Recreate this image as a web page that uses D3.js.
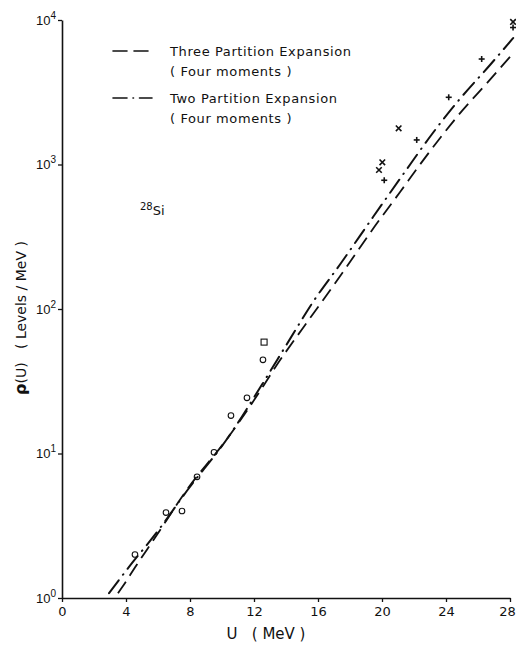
<!DOCTYPE html>
<html>
<head>
<meta charset="utf-8">
<script src="https://cdn.jsdelivr.net/npm/d3@7"></script>
<style>
  html, body { margin: 0; padding: 0; background: #fff; }
  svg { display: block; font-family: "DejaVu Sans", sans-serif; }
  text { fill: #111; }
</style>
</head>
<body>
<svg id="chart" width="516" height="650"></svg>
<script>
// Level density of 28Si: partition expansions vs. measured levels
const xTicks = [0, 4, 8, 12, 16, 20, 24, 28];
const yTickExps = [0, 1, 2, 3, 4];

// Three partition expansion (four moments)
const threeU   = [3.5, 3.81, 4.6, 5.8, 7.8, 10.4, 12.5, 13.3, 15.06, 16.31, 17.56, 19.56, 21.13, 22.31, 23.44, 25.0, 26.6, 28.2];
const threeRho = [1.08, 1.21, 1.65, 2.6, 5.6, 13.0, 28.4, 39.1, 73.9, 115, 180, 375, 645, 977, 1432, 2350, 3700, 5900];

// Two partition expansion (four moments)
const twoU   = [2.94, 4.13, 5.94, 7.8, 10.4, 12.5, 14.13, 15.69, 17.44, 19.44, 21.38, 23.13, 24.81, 26.75, 28.2];
const twoRho = [1.08, 1.61, 2.86, 5.5, 13.0, 30, 59, 112, 208, 433, 873, 1626, 2794, 4883, 7500];

// Measured densities
const circleU   = [4.56, 6.5, 7.5, 8.44, 9.5, 10.56, 11.56, 12.56];
const circleRho = [2.0, 3.9, 4.0, 6.9, 10.2, 18.3, 24.3, 44.5];
const squareU   = [12.63];
const squareRho = [59];
const crossU    = [19.81, 20.02, 21.04, 28.19];
const crossRho  = [916, 1035, 1780, 9690];
const plusU     = [20.14, 22.17, 24.17, 26.23, 28.19];
const plusRho   = [778, 1479, 2918, 5370, 8870];

const svg = d3.select("#chart");
const x = d3.scaleLinear().domain([0, 28]).range([62, 510]);
const y = d3.scaleLog().domain([1, 1e4]).range([598, 20]);

// Axes
const xAxis = d3.axisBottom(x).tickValues(xTicks).tickSize(4).tickSizeOuter(0).tickPadding(5);
const gx = svg.append("g").attr("transform", `translate(0,${y(1)})`).call(xAxis);
gx.select(".domain").attr("stroke", "#111").attr("stroke-width", 1.6);
gx.selectAll(".tick line").attr("stroke", "#111").attr("stroke-width", 1.3);
gx.selectAll(".tick text").attr("font-size", 13).attr("fill", "#111")
  .attr("font-family", "DejaVu Sans, sans-serif")
  .attr("dx", d => d === 28 ? -3 : 0);

const yAxis = d3.axisLeft(y).tickValues(yTickExps.map(e => Math.pow(10, e)))
  .tickSize(4).tickSizeOuter(0).tickFormat("");
const gy = svg.append("g").attr("transform", `translate(${x(0)},0)`).call(yAxis);
gy.select(".domain").attr("stroke", "#111").attr("stroke-width", 1.6);
gy.selectAll(".tick line").attr("stroke", "#111").attr("stroke-width", 1.3);
gy.selectAll(".tick").each(function(d) {
  const t = d3.select(this).append("text")
    .attr("x", -6).attr("y", 4).attr("text-anchor", "end")
    .attr("font-size", 13).attr("fill", "#111");
  t.append("tspan").text("10");
  t.append("tspan").attr("font-size", 10).attr("dy", -6).text(Math.round(Math.log10(d)));
});

// Theory curves
const line = d3.line().x(d => x(d[0])).y(d => y(d[1])).curve(d3.curveMonotoneX);
const plot = svg.append("g");
plot.append("path")
  .datum(d3.zip(threeU, threeRho))
  .attr("d", line).attr("fill", "none").attr("stroke", "#111")
  .attr("stroke-width", 1.8).attr("stroke-dasharray", "14 7");
plot.append("path")
  .datum(d3.zip(twoU, twoRho))
  .attr("d", line).attr("fill", "none").attr("stroke", "#111")
  .attr("stroke-width", 2).attr("stroke-linecap", "round")
  .attr("stroke-dasharray", "16 7 0.6 7");

// Data markers
plot.selectAll("circle.meas").data(d3.zip(circleU, circleRho)).join("circle")
  .attr("class", "meas").attr("cx", d => x(d[0])).attr("cy", d => y(d[1]))
  .attr("r", 2.8).attr("fill", "none").attr("stroke", "#111").attr("stroke-width", 1.1);
plot.selectAll("rect.meas").data(d3.zip(squareU, squareRho)).join("rect")
  .attr("class", "meas").attr("x", d => x(d[0]) - 3).attr("y", d => y(d[1]) - 3)
  .attr("width", 6).attr("height", 6).attr("fill", "none").attr("stroke", "#111").attr("stroke-width", 1.1);
const cross = d3.symbol().type(d3.symbolX).size(22);
plot.selectAll("path.cross").data(d3.zip(crossU, crossRho)).join("path")
  .attr("class", "cross").attr("d", cross)
  .attr("transform", d => `translate(${x(d[0])},${y(d[1])})`)
  .attr("fill", "none").attr("stroke", "#111").attr("stroke-width", 1.6);
plot.selectAll("g.plus").data(d3.zip(plusU, plusRho)).join("g")
  .attr("class", "plus")
  .attr("transform", d => `translate(${x(d[0])},${y(d[1])})`)
  .each(function() {
    const g = d3.select(this);
    g.append("line").attr("x1", -3).attr("x2", 3).attr("y1", 0).attr("y2", 0);
    g.append("line").attr("x1", 0).attr("x2", 0).attr("y1", -3).attr("y2", 3);
  })
  .selectAll("line").attr("stroke", "#111").attr("stroke-width", 1.6);

// Legend
const legend = svg.append("g").attr("font-size", 13).attr("letter-spacing", 0.6);
const legendRows = [
  { y: 51, dash: "14 7", label: "Three Partition Expansion" },
  { y: 98, dash: "14 6 0.5 6", label: "Two Partition Expansion" }
];
legendRows.forEach(r => {
  legend.append("line").attr("x1", 113).attr("x2", 152).attr("y1", r.y).attr("y2", r.y)
    .attr("stroke", "#111").attr("stroke-width", 1.6).attr("stroke-linecap", "round")
    .attr("stroke-dasharray", r.dash);
  legend.append("text").attr("x", 170).attr("y", r.y + 5).text(r.label);
  legend.append("text").attr("x", 170).attr("y", r.y + 25).text("( Four moments )");
});

// Nucleus label
const nuc = svg.append("text").attr("x", 140).attr("y", 215).attr("font-size", 13);
nuc.append("tspan").attr("font-size", 10).attr("dy", -5).text("28");
nuc.append("tspan").attr("dy", 5).text("Si");

// Axis titles
svg.append("text").attr("x", 266).attr("y", 639).attr("text-anchor", "middle")
  .attr("font-size", 15).attr("xml:space", "preserve").text("U   ( MeV )");
const yl = svg.append("text").attr("transform", "translate(26,318) rotate(-90)")
  .attr("text-anchor", "middle").attr("font-size", 14).attr("xml:space", "preserve");
yl.append("tspan").attr("font-weight", "bold").attr("font-size", 16).text("ρ");
yl.append("tspan").text("(U)   ( Levels / MeV )");
</script>
</body>
</html>
